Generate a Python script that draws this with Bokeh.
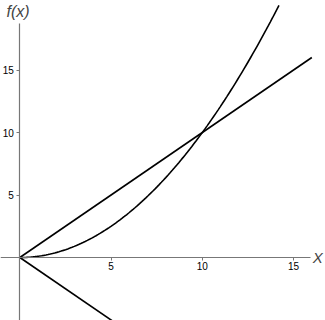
import numpy as np
from bokeh.plotting import figure
from bokeh.models import LinearAxis, FixedTicker, Label, Range1d
from bokeh.embed import file_html
from bokeh.resources import INLINE

# Data: three functions of x
line_up_x = [0, 16.0]
line_up_y = [0, 16.0]          # f(x) = x
line_down_x = [0, 6.0]
line_down_y = [0, -6.0]        # f(x) = -x
parab_x = list(np.linspace(0, 14.2, 120))
parab_y = [v * v / 10.0 for v in parab_x]   # f(x) = x^2/10
x_ticks = [5, 10, 15]
y_ticks = [5, 10, 15]

W, H = 325, 320
p = figure(width=W, height=H, output_backend="svg", toolbar_location=None,
           x_range=Range1d(-1.06, 16.75), y_range=Range1d(-5.04, 20.56),
           x_axis_location=None, y_axis_location=None, min_border=0,
           outline_line_color=None, background_fill_color="white",
           border_fill_color="white")
p.grid.visible = False

axis_color = "#777777"
xa = LinearAxis(fixed_location=0, ticker=FixedTicker(ticks=x_ticks),
                bounds=(-1.06, 15.95), axis_line_color=axis_color,
                axis_line_width=1.2, major_tick_line_color=axis_color,
                major_tick_in=0, major_tick_out=3, minor_tick_line_color=None,
                major_label_text_font="Liberation Sans",
                major_label_text_font_size="10px",
                major_label_text_color="black", major_label_standoff=1)
ya = LinearAxis(fixed_location=0, ticker=FixedTicker(ticks=y_ticks),
                bounds=(-5.04, 18.7), axis_line_color=axis_color,
                axis_line_width=1.2, major_tick_line_color=axis_color,
                major_tick_in=0, major_tick_out=3, minor_tick_line_color=None,
                major_label_text_font="Liberation Sans",
                major_label_text_font_size="10px",
                major_label_text_color="black", major_label_standoff=3)
p.add_layout(xa, "below")
p.add_layout(ya, "left")

p.line(line_up_x, line_up_y, line_color="black", line_width=1.6)
p.line(line_down_x, line_down_y, line_color="black", line_width=1.6)
p.line(parab_x, parab_y, line_color="black", line_width=1.6)

p.add_layout(Label(x=16.0, y=0, text="X", text_font="Liberation Sans",
                   text_font_style="italic", text_font_size="15px",
                   text_align="left", text_baseline="middle", x_offset=1))
p.add_layout(Label(x=-1.06, y=20.56, text="f(x)", text_font="Liberation Sans",
                   text_font_style="italic", text_font_size="16px",
                   text_align="left", text_baseline="top", x_offset=6, y_offset=-2))

open("out.html", "w").write(file_html(p, INLINE))
